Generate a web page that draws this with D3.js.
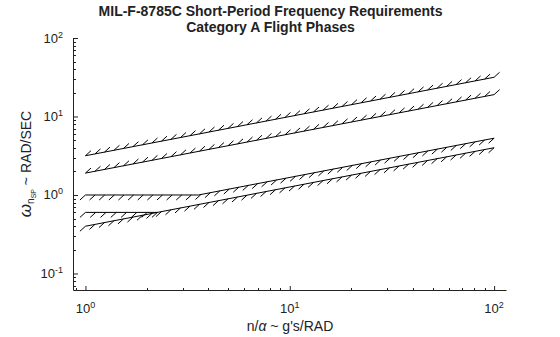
<!DOCTYPE html>
<html><head><meta charset="utf-8">
<script src="https://cdn.jsdelivr.net/npm/d3@7"></script>
<style>html,body{margin:0;padding:0;background:#fff;}svg{display:block;font-family:"Liberation Sans",Arial,sans-serif;}</style>
</head><body>
<svg id="c" width="560" height="337"></svg>
<script>
// ---- data ----
const titleLines = ["MIL-F-8785C Short-Period Frequency Requirements", "Category A Flight Phases"];
const xTickExps = [0, 1, 2];
const yTickExps = [-1, 0, 1, 2];
// Level 1 upper boundary
const xL1Upper = [1, 100];
const yL1Upper = [3.16, 31.6];
// Level 2 upper boundary
const xL2Upper = [1, 100];
const yL2Upper = [1.90, 19.0];
// Level 1 lower boundary
const xL1Lower = [1, 3.57, 100];
const yL1Lower = [1.0, 1.0, 5.29];
// Level 2 lower boundary (flat part)
const xL2Flat = [1, 2.25];
const yL2Flat = [0.6, 0.6];
// Level 2 lower boundary (sloped part)
const xL2Lower = [1, 100];
const yL2Lower = [0.4, 4.0];
const hatchSides = ["up", "up", "down", "down", "down"];

const svg = d3.select("#c");
const x = d3.scaleLog().domain([0.874, 115]).range([73.5, 506.5]);
const y = d3.scaleLog().domain([0.0607, 100]).range([290.5, 38]);

// title
svg.append("g").selectAll("text").data(titleLines).join("text")
  .attr("x", 270.5).attr("y", (d, i) => 15.5 + i * 16)
  .attr("text-anchor", "middle").attr("font-size", 14).attr("font-weight", "bold")
  .attr("fill", "#222").text(d => d);

// axes
const xAxis = d3.axisBottom(x).tickValues(xTickExps.map(e => Math.pow(10, e))).tickSize(-4.5).tickFormat("");
const yAxis = d3.axisLeft(y).tickValues(yTickExps.map(e => Math.pow(10, e))).tickSize(-4.5).tickFormat("");
const gx = svg.append("g").attr("transform", "translate(0,290.5)").call(xAxis);
const gy = svg.append("g").attr("transform", "translate(73.5,0)").call(yAxis);
[gx, gy].forEach(g => {
  g.select(".domain").attr("stroke", "#222");
  g.selectAll(".tick line").attr("stroke", "#222");
});
gx.select(".domain").attr("d", `M${x.range()[0]},0H${x.range()[1]}`);
gy.select(".domain").attr("d", `M0,${y.range()[0]}V${y.range()[1]}`);

// minor ticks
const minorX = [];
for (let e = -1; e <= 2; e++) for (let m = 2; m <= 9; m++) { const v = m * Math.pow(10, e); if (v >= x.domain()[0] && v <= x.domain()[1]) minorX.push(v); }
const minorY = [];
for (let e = -2; e <= 1; e++) for (let m = 2; m <= 9; m++) { const v = m * Math.pow(10, e); if (v >= y.domain()[0] && v <= y.domain()[1]) minorY.push(v); }
svg.append("g").selectAll("line").data(minorX).join("line")
  .attr("x1", d => Math.round(x(d)) + 0.5).attr("x2", d => Math.round(x(d)) + 0.5)
  .attr("y1", 290.5).attr("y2", 288).attr("stroke", "#222");
svg.append("g").selectAll("line").data(minorY).join("line")
  .attr("y1", d => Math.round(y(d)) + 0.5).attr("y2", d => Math.round(y(d)) + 0.5)
  .attr("x1", 73.5).attr("x2", 76).attr("stroke", "#222");

// tick labels
const xl = svg.append("g").selectAll("text").data(xTickExps).join("text")
  .attr("x", d => x(Math.pow(10, d))).attr("y", 312.5)
  .attr("text-anchor", "middle").attr("font-size", 13).attr("fill", "#222");
xl.append("tspan").text("10");
xl.append("tspan").attr("dy", -5).attr("font-size", 9).text(d => d);
const yl = svg.append("g").selectAll("text").data(yTickExps).join("text")
  .attr("x", 63).attr("y", d => y(Math.pow(10, d)) + 4.5)
  .attr("text-anchor", "end").attr("font-size", 13).attr("fill", "#222");
yl.append("tspan").text("10");
yl.append("tspan").attr("dy", -5).attr("font-size", 9).text(d => d);

// axis labels
const xlab = svg.append("text").attr("x", 290).attr("y", 331).attr("text-anchor", "middle")
  .attr("font-size", 14).attr("fill", "#222");
xlab.append("tspan").text("n/");
xlab.append("tspan").attr("font-style", "italic").text("α");
xlab.append("tspan").text(" ~ g's/RAD");

const ylab = svg.append("text").attr("transform", "translate(31,164) rotate(-90)")
  .attr("text-anchor", "middle").attr("font-size", 14).attr("fill", "#222");
ylab.append("tspan").attr("font-style", "italic").attr("font-size", 17).text("ω");
ylab.append("tspan").attr("font-size", 10).attr("dy", 3).text("n");
ylab.append("tspan").attr("font-size", 7).attr("dy", 2).text("SP");
ylab.append("tspan").attr("dy", -5).text(" ~ RAD/SEC");

// boundary lines with hatching
const series = [
  [xL1Upper, yL1Upper], [xL2Upper, yL2Upper], [xL1Lower, yL1Lower],
  [xL2Flat, yL2Flat], [xL2Lower, yL2Lower]
];
const line = d3.line().x(d => x(d[0])).y(d => y(d[1]));
const gl = svg.append("g");
series.forEach((s, i) => {
  const pts = s[0].map((v, j) => [v, s[1][j]]);
  gl.append("path").attr("d", line(pts)).attr("fill", "none").attr("stroke", "#000").attr("stroke-width", 1);
  const px = pts.map(p => [x(p[0]), y(p[1])]);
  let total = 0; const segL = [];
  for (let j = 1; j < px.length; j++) { const L = Math.hypot(px[j][0] - px[j-1][0], px[j][1] - px[j-1][1]); segL.push(L); total += L; }
  const n = Math.max(1, Math.round(total / 9.6));
  const step = total / n;
  const hs = [];
  for (let k = 0; k <= n; k++) {
    let d = k * step, j = 0;
    while (j < segL.length - 1 && d > segL[j]) { d -= segL[j]; j++; }
    const t = Math.min(1, d / segL[j]);
    hs.push([px[j][0] + t * (px[j+1][0] - px[j][0]), px[j][1] + t * (px[j+1][1] - px[j][1])]);
  }
  const up = hatchSides[i] === "up";
  gl.append("g").selectAll("line").data(hs).join("line")
    .attr("x1", d => d[0]).attr("y1", d => d[1])
    .attr("x2", d => d[0] + (up ? 5.5 : -5.5)).attr("y2", d => d[1] + (up ? -5 : 5))
    .attr("stroke", "#000").attr("stroke-width", 1);
});
</script>
</body></html>
